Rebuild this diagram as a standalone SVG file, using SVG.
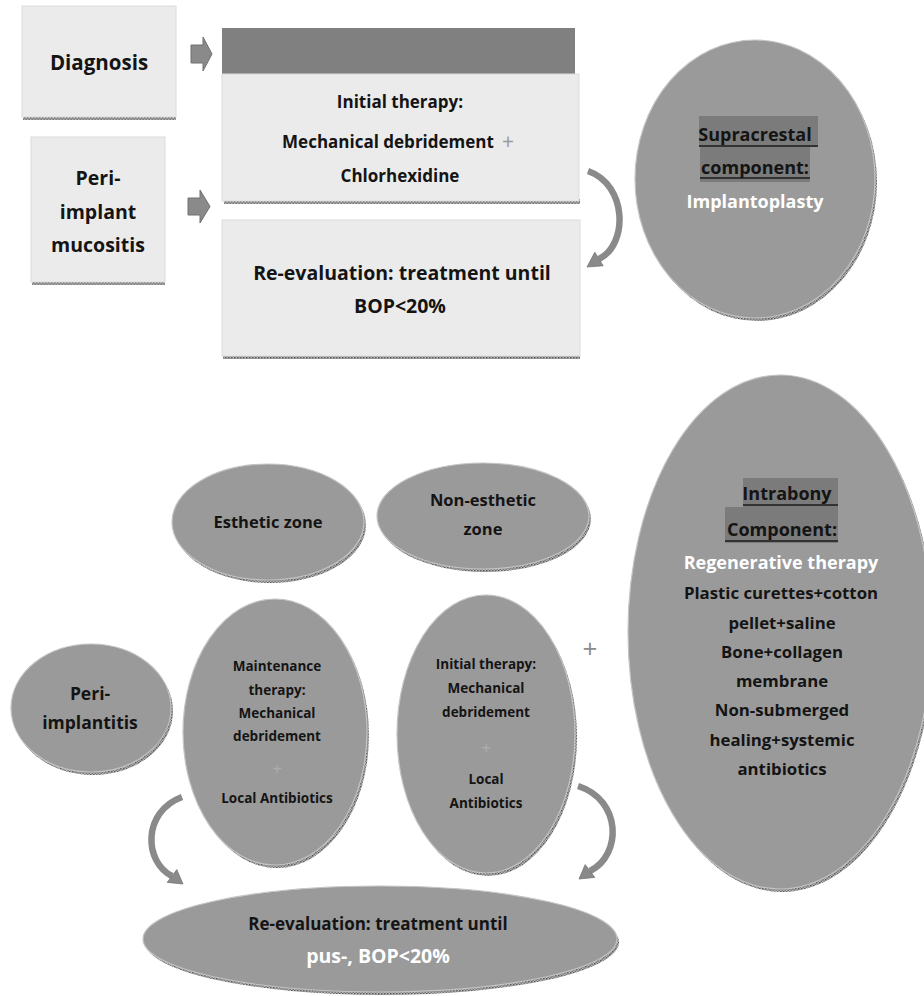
<svg xmlns="http://www.w3.org/2000/svg" width="924" height="996" viewBox="0 0 924 996">
<style>
text{font-family:"Open Sans","Noto Sans","DejaVu Sans",sans-serif;font-weight:bold;text-anchor:middle;fill:#141414}
.w{fill:#ffffff}
.box{fill:#ebebeb;stroke:#dcdcdc;stroke-width:1}
.bar{fill:#808080}
.ell{fill:#9a9a9a;stroke:#c4c4c4;stroke-width:1.2}
.sh{fill:url(#hatch)}
.hl{fill:#7b7b7b}
.ul{stroke:#1a1a1a;stroke-width:1.5}
.blk{fill:#8a8a8a;stroke:#707070;stroke-width:1}
.curve{fill:none;stroke:#8a8a8a;stroke-width:6.5}
.head{fill:#8a8a8a;stroke:#777;stroke-width:0.8}
.plus{font-weight:normal}
</style>
<defs>
<pattern id="hatch" width="3" height="3" patternUnits="userSpaceOnUse">
<rect width="3" height="3" fill="#b4b4b4"/>
<rect width="1.5" height="1.5" fill="#5a5a5a"/>
<rect x="1.5" y="1.5" width="1.5" height="1.5" fill="#7a7a7a"/>
</pattern>
</defs>

<g id="diagnosis">
<rect class="sh" x="23" y="115" width="153" height="5"/>
<rect class="box" x="22" y="6" width="154" height="111"/>
<text x="99" y="70" font-size="20.5">Diagnosis</text>
</g>

<g id="mucositis">
<rect class="sh" x="32" y="280" width="133" height="5"/>
<rect class="box" x="31" y="137" width="134" height="145"/>
<text x="98" y="185" font-size="19.5">Peri-</text>
<text x="98" y="219" font-size="19.5">implant</text>
<text x="98" y="252" font-size="19.5">mucositis</text>
</g>

<g id="header-bar">
<rect class="bar" x="222" y="28" width="353" height="46"/>
</g>

<g id="initial-therapy-box">
<rect class="sh" x="224" y="199" width="356" height="5"/>
<rect class="box" x="222" y="74" width="357" height="127"/>
<text x="400" y="108" font-size="17">Initial therapy:</text>
<text x="388" y="148" font-size="17">Mechanical debridement</text>
<text class="plus" x="508" y="149" font-size="21" style="fill:#9a9a9a">+</text>
<text x="400" y="182" font-size="17">Chlorhexidine</text>
</g>

<g id="reevaluation-box">
<rect class="sh" x="223" y="354" width="357" height="5"/>
<rect class="box" x="222" y="220" width="358" height="136"/>
<text x="402" y="280" font-size="19.5">Re-evaluation: treatment until</text>
<text x="400" y="313" font-size="19.5">BOP&lt;20%</text>
</g>

<g id="supracrestal">
<ellipse class="sh" cx="757" cy="182" rx="120" ry="139"/>
<ellipse class="ell" cx="755" cy="179" rx="120" ry="139"/>
<rect class="hl" x="699" y="116" width="119" height="31"/>
<rect class="hl" x="700" y="147" width="110" height="35"/>
<text x="755" y="141" font-size="18">Supracrestal</text>
<line class="ul" x1="699" y1="146" x2="818" y2="146"/>
<text x="755" y="174" font-size="18">component:</text>
<line class="ul" x1="700" y1="178" x2="810" y2="178"/>
<text class="w" x="755" y="208" font-size="18">Implantoplasty</text>
</g>

<g id="esthetic-zone">
<ellipse class="sh" cx="270" cy="525" rx="96" ry="58"/>
<ellipse class="ell" cx="268" cy="522" rx="96" ry="58"/>
<text x="268" y="528" font-size="16.5">Esthetic zone</text>
</g>

<g id="non-esthetic-zone">
<ellipse class="sh" cx="485" cy="519" rx="106" ry="53"/>
<ellipse class="ell" cx="483" cy="516" rx="106" ry="53"/>
<text x="483" y="506" font-size="16.5">Non-esthetic</text>
<text x="483" y="535" font-size="16.5">zone</text>
</g>

<g id="intrabony">
<ellipse class="sh" cx="782" cy="635" rx="152" ry="257"/>
<ellipse class="ell" cx="780" cy="632" rx="152" ry="257"/>
<rect class="hl" x="743" y="478" width="95" height="29"/>
<rect class="hl" x="725" y="507" width="113" height="36"/>
<text x="787" y="500" font-size="18">Intrabony</text>
<line class="ul" x1="743" y1="505" x2="838" y2="505"/>
<text x="782" y="536" font-size="18">Component:</text>
<line class="ul" x1="725" y1="541" x2="838" y2="541"/>
<text class="w" x="781" y="569" font-size="18">Regenerative therapy</text>
<text x="781" y="599" font-size="16.8">Plastic curettes+cotton</text>
<text x="782" y="629" font-size="16.8">pellet+saline</text>
<text x="782" y="658" font-size="16.8">Bone+collagen</text>
<text x="782" y="687" font-size="16.8">membrane</text>
<text x="782" y="716" font-size="16.8">Non-submerged</text>
<text x="782" y="746" font-size="16.8">healing+systemic</text>
<text x="782" y="775" font-size="16.8">antibiotics</text>
</g>

<g id="peri-implantitis">
<ellipse class="sh" cx="93" cy="711" rx="80" ry="64"/>
<ellipse class="ell" cx="91" cy="708" rx="80" ry="64"/>
<text x="90" y="700" font-size="17.5">Peri-</text>
<text x="90" y="729" font-size="17.5">implantitis</text>
</g>

<g id="maintenance-therapy">
<ellipse class="sh" cx="277" cy="735" rx="92" ry="133"/>
<ellipse class="ell" cx="275" cy="732" rx="92" ry="133"/>
<text x="277" y="671" font-size="13.5">Maintenance</text>
<text x="277" y="695" font-size="13.5">therapy:</text>
<text x="277" y="718" font-size="13.5">Mechanical</text>
<text x="277" y="741" font-size="13.5">debridement</text>
<text class="plus" x="277" y="775" font-size="17" style="fill:#adadad">+</text>
<text x="277" y="803" font-size="13.5">Local Antibiotics</text>
</g>

<g id="initial-therapy-ellipse">
<ellipse class="sh" cx="488" cy="737" rx="89" ry="139"/>
<ellipse class="ell" cx="486" cy="734" rx="89" ry="139"/>
<text x="486" y="669" font-size="13.5">Initial therapy:</text>
<text x="486" y="693" font-size="13.5">Mechanical</text>
<text x="486" y="717" font-size="13.5">debridement</text>
<text class="plus" x="486" y="754" font-size="17" style="fill:#adadad">+</text>
<text x="486" y="784" font-size="13.5">Local</text>
<text x="486" y="808" font-size="13.5">Antibiotics</text>
</g>

<g id="plus-sign">
<text class="plus" x="590" y="658" font-size="26" style="fill:#8c8c8c">+</text>
</g>

<g id="reevaluation-ellipse">
<ellipse class="sh" cx="382" cy="942" rx="237" ry="53"/>
<ellipse class="ell" cx="380" cy="939" rx="237" ry="53"/>
<text x="378" y="930" font-size="17">Re-evaluation: treatment until</text>
<text class="w" x="378" y="963" font-size="19.5">pus-, BOP&lt;20%</text>
</g>

<g id="connectors">
<path class="blk" d="M191,45 H203 V37 L212,54 L203,71 V63 H191 Z"/>
<path class="blk" d="M188,198 H200 V190 L210,206.5 L200,223 V215 H188 Z"/>
<path class="curve" d="M588,171 C628,185 628,245 599,259"/>
<polygon class="head" points="603.2,265.8 594.8,252.2 587,267"/>
<path class="curve" d="M182,797 C142,812 144,862 172,876"/>
<polygon class="head" points="167.2,882.4 176.8,869.6 183,884"/>
<path class="curve" d="M578,786 C622,800 622,855 590,871"/>
<polygon class="head" points="594.8,877.4 585.2,864.6 579,879"/>
</g>
</svg>
